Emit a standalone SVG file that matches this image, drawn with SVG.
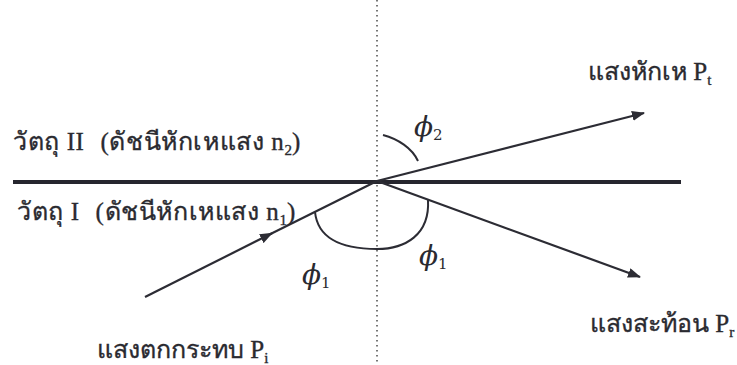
<svg xmlns="http://www.w3.org/2000/svg" width="737" height="365" viewBox="0 0 737 365">
<style>
.t{font-family:"Liberation Serif","DejaVu Serif",serif;font-size:25px;fill:#2a2a30;stroke:#2a2a30;stroke-width:0.35}
.m{letter-spacing:0.6px}
.phi{font-family:"DejaVu Serif","Liberation Serif",serif;font-style:italic;font-size:28px;fill:#2a2a30}
.sub{font-size:15px;font-style:normal;letter-spacing:0}
.ray{stroke:#2c2c34;stroke-width:2.2;fill:none}
.arc{stroke:#2c2c34;stroke-width:2;fill:none}
</style>
<defs>
<marker id="ah" viewBox="0 0 13 10" refX="12" refY="5" markerWidth="13" markerHeight="10" markerUnits="userSpaceOnUse" orient="auto">
<path d="M0,0 L13,5 L0,10 Z" fill="#2c2c34"/>
</marker>
</defs>
<rect width="737" height="365" fill="#fff"/>
<g id="normal">
<line x1="377" y1="0" x2="377" y2="365" stroke="#555" stroke-width="1.6" stroke-dasharray="1.6 3.4"/>
</g>
<g id="interface">
<line x1="13" y1="182" x2="681" y2="182" stroke="#26262e" stroke-width="4.2"/>
</g>
<g id="connectors">
<path class="ray" d="M145,297 L272,233.3" marker-end="url(#ah)"/>
<path class="ray" d="M270,234.3 L377,181"/>
<path class="ray" d="M377,181 L644,113" marker-end="url(#ah)"/>
<path class="ray" d="M377,181 L640,277" marker-end="url(#ah)"/>
<path class="arc" d="M315,212 C318,240 345,249 377,249 C405,249 430,235 428,200"/>
<path class="arc" d="M383,135 C398,139 412,148 418,161"/>
</g>
<g id="label-medium2">
<text class="t m" x="13" y="150">วัตถุ II<tspan dx="16">(ดัชนีหักเหแสง n</tspan><tspan class="sub" dy="5">2</tspan><tspan dy="-5">)</tspan></text>
</g>
<g id="label-medium1">
<text class="t m" x="17" y="220">วัตถุ I<tspan dx="16">(ดัชนีหักเหแสง n</tspan><tspan class="sub" dy="5">1</tspan><tspan dy="-5">)</tspan></text>
</g>
<g id="label-transmitted">
<text class="t" x="588" y="80">แสงหักเห P<tspan class="sub" dy="5">t</tspan></text>
</g>
<g id="label-reflected">
<text class="t" x="590" y="332">แสงสะท้อน P<tspan class="sub" dy="5">r</tspan></text>
</g>
<g id="label-incident">
<text class="t" x="97" y="358">แสงตกกระทบ P<tspan class="sub" dy="5">i</tspan></text>
</g>
<g id="angles">
<text class="phi" x="302" y="284">ϕ<tspan class="sub" dy="4">1</tspan></text>
<text class="phi" x="419" y="265">ϕ<tspan class="sub" dy="4">1</tspan></text>
<text class="phi" x="414" y="136">ϕ<tspan class="sub" dy="4">2</tspan></text>
</g>
</svg>
